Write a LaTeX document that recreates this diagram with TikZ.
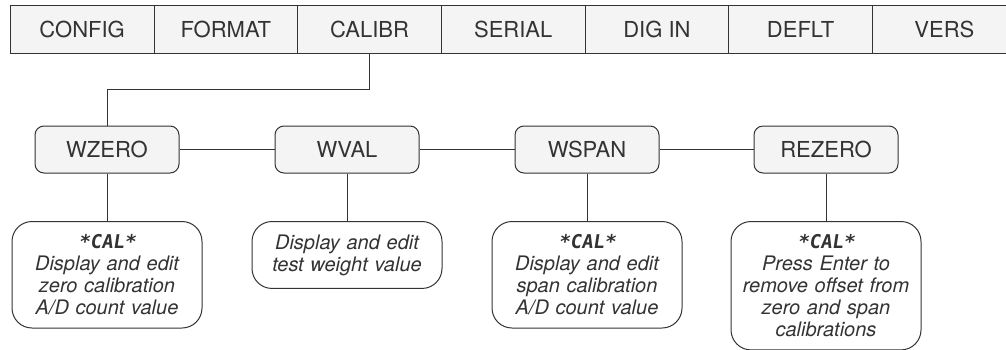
\documentclass[tikz,border=0pt]{standalone}
\usepackage{fontspec}
\setmainfont{TeX Gyre Heros}
\newfontfamily\lcdfont{DejaVu Sans Mono}[FakeSlant=0.15]
\usetikzlibrary{positioning,calc}
\definecolor{linegray}{HTML}{333333}
\definecolor{boxgray}{HTML}{F4F4F4}

\begin{document}
\begin{tikzpicture}[x=1pt, y=-1pt, line width=1pt, color=linegray,
    menu/.style={draw, fill=boxgray, minimum width=143.7pt, minimum height=48pt, inner sep=0pt, font=\fontsize{22}{26}\selectfont},
    param/.style={draw, fill=boxgray, rounded corners=9pt, minimum width=144pt, minimum height=47pt, inner sep=0pt, font=\fontsize{22}{26}\selectfont},
    info/.style={draw, fill=white, rounded corners=20pt, text width=172pt, align=center, inner xsep=9pt, inner ysep=13pt, anchor=north, font=\itshape\fontsize{20}{22}\selectfont}]
    \useasboundingbox (0,0) rectangle (1006,349);

    % Menu bar
    \foreach \name/\txt [count=\i from 0] in {config/CONFIG, format/FORMAT, calibr/CALIBR, serial/SERIAL, digin/DIG IN, deflt/DEFLT, vers/VERS}
        \node [menu] (\name) at (82.15+143.7*\i, 29) {\txt};

    % Parameters
    \node [param] (wzero) at (107, 149.5) {WZERO};
    \node [param] (wval) at (347, 149.5) {WVAL};
    \node [param] (wspan) at (587, 149.5) {WSPAN};
    \node [param] (rezero) at (826, 149.5) {REZERO};

    % Descriptions
    \node [info] (wzero-info) at (107, 221) {{\lcdfont\upshape\bfseries\fontsize{19}{22}\selectfont *CAL*}\\Display and edit\\zero calibration\\A/D count value};
    \node [info] (wval-info) at (347, 221) {Display and edit\\test weight value};
    \node [info] (wspan-info) at (587, 221) {{\lcdfont\upshape\bfseries\fontsize{19}{22}\selectfont *CAL*}\\Display and edit\\span calibration\\A/D count value};
    \node [info] (rezero-info) at (826, 221) {{\lcdfont\upshape\bfseries\fontsize{19}{22}\selectfont *CAL*}\\Press Enter to\\remove offset from\\zero and span\\calibrations};

    % Connectors
    \draw (calibr.south) -- ++(0,36) -| (wzero.north);
    \foreach \a/\b in {wzero/wval, wval/wspan, wspan/rezero} \draw (\a) -- (\b);
    \foreach \p in {wzero, wval, wspan, rezero} \draw (\p) -- (\p-info);
\end{tikzpicture}
\end{document}
